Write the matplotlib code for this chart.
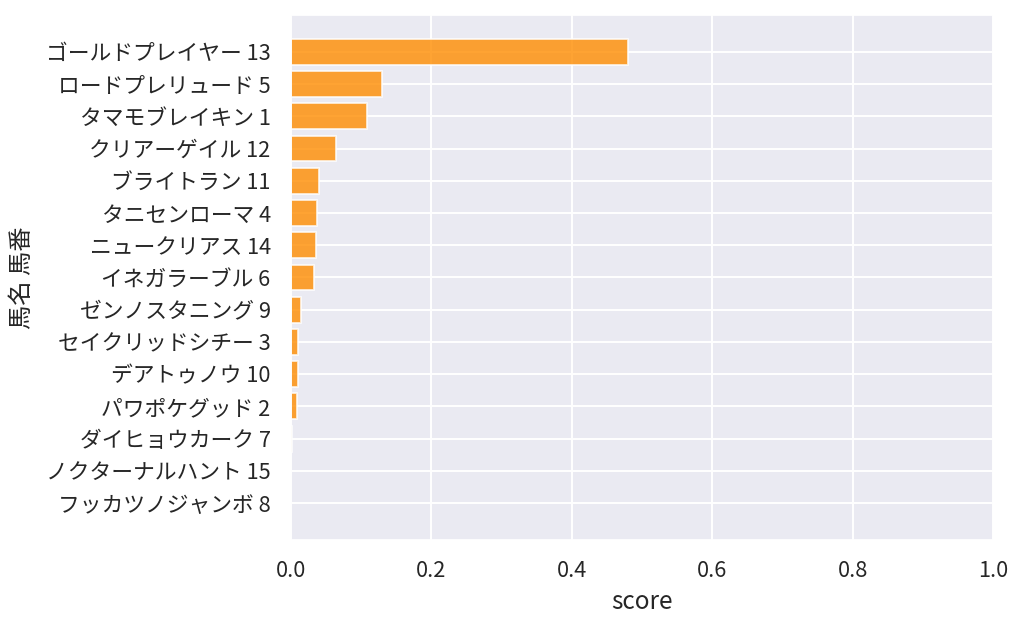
import matplotlib
matplotlib.use("Agg")
from matplotlib import pyplot as plt
import seaborn as sns
import numpy as np

horses = ["ゴールドプレイヤー 13", "ロードプレリュード 5", "タマモブレイキン 1",
          "クリアーゲイル 12", "ブライトラン 11", "タニセンローマ 4",
          "ニュークリアス 14", "イネガラーブル 6", "ゼンノスタニング 9",
          "セイクリッドシチー 3", "デアトゥノウ 10", "パワポケグッド 2",
          "ダイヒョウカーク 7", "ノクターナルハント 15", "フッカツノジャンボ 8"]
scores = [0.480, 0.130, 0.108, 0.064, 0.040, 0.037, 0.036, 0.033,
          0.014, 0.010, 0.010, 0.009, 0.002, 0.0006, 0.0003]

sns.set_theme(style="darkgrid", rc={"grid.linewidth": 1.4, "patch.linewidth": 1.3})
plt.rcParams['font.family'] = ['Noto Sans CJK JP', 'DejaVu Sans']

fig = plt.figure(figsize=(10.24, 6.27), dpi=100)
ax = fig.add_axes([0.284, 0.139, 0.686, 0.837])
y = np.arange(len(horses))
ax.barh(y, scores, color="darkorange", alpha=0.8)
ax.set_yticks(y)
ax.set_yticklabels(horses)
ax.invert_yaxis()
ax.set_xlim(0, 1.0)
ax.tick_params(axis="both", labelsize=15.7, pad=8.5)
ax.set_xlabel("score", fontsize=17.5, labelpad=5)
ax.set_ylabel("馬名 馬番", fontsize=17.5, labelpad=8)
fig.savefig("out.png")
